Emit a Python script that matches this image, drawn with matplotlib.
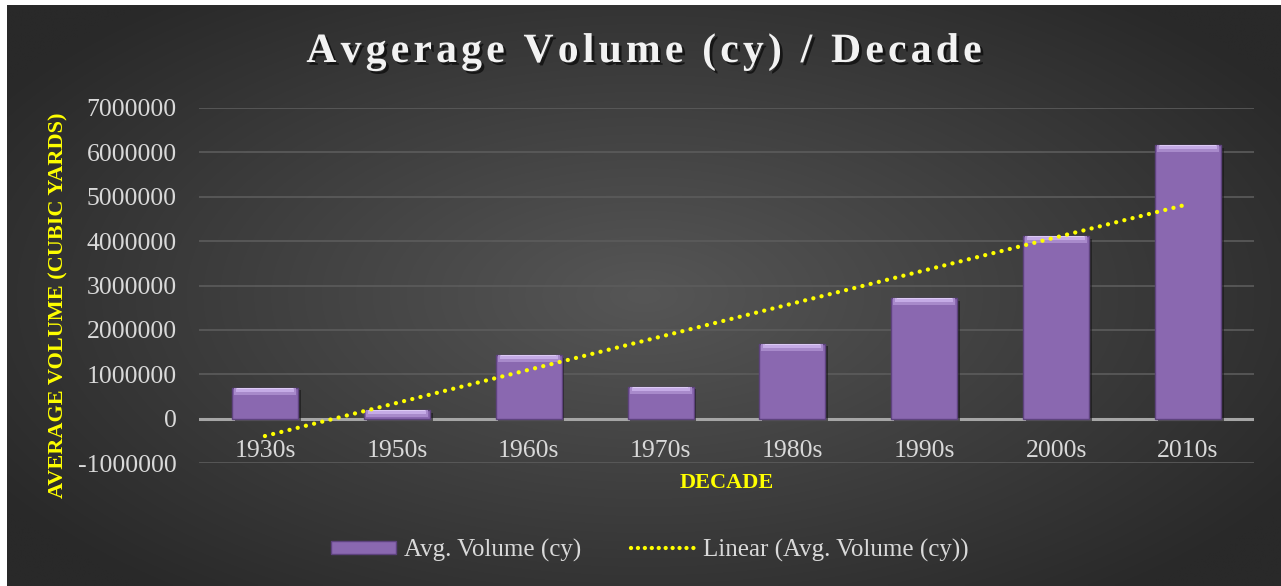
import numpy as np
import matplotlib
matplotlib.use("Agg")
import matplotlib.pyplot as plt
import matplotlib.patheffects as pe
from matplotlib.lines import Line2D
from matplotlib.patches import Patch
from matplotlib.textpath import TextPath
from matplotlib.font_manager import FontProperties

categories = ["1930s", "1950s", "1960s", "1970s", "1980s", "1990s", "2000s", "2010s"]
avg_volume = [700000, 200000, 1440000, 720000, 1690000, 2720000, 4120000, 6170000]
y_ticks = [-1000000, 0, 1000000, 2000000, 3000000, 4000000, 5000000, 6000000, 7000000]

title = "Avgerage Volume (cy) / Decade"
y_label = "AVERAGE VOLUME (CUBIC YARDS)"
x_label = "DECADE"
legend_bar = "Avg. Volume (cy)"
legend_trend = "Linear (Avg. Volume (cy))"

W, H = 1281, 586
fig = plt.figure(figsize=(W / 100, H / 100), dpi=100)
fig.patch.set_facecolor("white")
serif = ["Liberation Serif", "DejaVu Serif"]

# background radial gradient
bg = fig.add_axes([7 / W, 0, 1 - 7 / W, 1 - 5 / H])
bg.set_axis_off()
gx, gy = np.meshgrid(np.linspace(-1, 1, 400), np.linspace(-1, 1, 200))
r = np.sqrt((gx / 1.0) ** 2 + (gy / 1.1) ** 2)
r = np.clip(r, 0, 1.2) / 1.2
center = np.array([0x56, 0x56, 0x56]) / 255
edge = np.array([0x29, 0x29, 0x29]) / 255
img = center[None, None, :] * (1 - r[..., None]) + edge[None, None, :] * r[..., None]
bg.imshow(img, aspect="auto", extent=[0, 1, 0, 1], interpolation="bilinear")
bg.set_xlim(0, 1)
bg.set_ylim(0, 1)

ax = fig.add_axes([199 / W, 1 - 463 / H, (1254 - 199) / W, (463 - 108) / H])
ax.set_facecolor("none")
x = np.arange(len(categories))
vals = np.array(avg_volume, dtype=float)

ax.set_xlim(-0.5, len(categories) - 0.5)
ax.set_ylim(-1000000, 7000000)
ax.set_yticks(y_ticks)
ax.yaxis.grid(True, color="#5c5c5c", linewidth=1.2)
ax.set_axisbelow(True)
for s in ax.spines.values():
    s.set_visible(False)
ax.axhline(0, color="#a6a6a6", linewidth=2.2, zorder=2)

ax.bar(x, vals, width=0.5, color="#8a68b0", edgecolor="#5e437e",
       linewidth=1.0, zorder=3,
       path_effects=[pe.SimplePatchShadow(offset=(2, -2), shadow_rgbFace="#151515", alpha=0.6), pe.Normal()])
# bevel highlight at top of each bar
bevel = np.minimum(170000, vals)
ax.bar(x, bevel, bottom=vals - bevel, width=0.47, color="#a88acb", linewidth=0, zorder=4)
ax.bar(x, bevel * 0.55, bottom=vals - bevel * 0.55, width=0.44, color="#c5abe6", linewidth=0, zorder=5)
ax.bar(x, bevel * 0.2, bottom=vals - bevel * 0.2, width=0.42, color="#dccaf4", linewidth=0, zorder=5)

# linear trend line
xn = x + 1
coef = np.polyfit(xn, vals, 1)
trend = np.polyval(coef, xn)
dot_style = (0, (0.01, 1.95))
ax.plot(x, trend, color="#ffff00", linewidth=3.1, linestyle=dot_style,
        dash_capstyle="round", zorder=6)

fs = 18.5
ax.tick_params(axis="both", length=0, colors="#d9d9d9", labelsize=fs)
ax.tick_params(axis="y", pad=16)
ax.set_xticks(x)
ax.set_xticklabels(categories)
ax.set_yticklabels([str(v) for v in y_ticks])
for lbl in ax.get_yticklabels():
    lbl.set_fontfamily(serif)
for lbl in ax.get_xticklabels():
    lbl.set_visible(False)
for xi, c in zip(x, categories):
    ax.annotate(c, xy=(xi, 0), xytext=(0, -23), textcoords="offset points",
                ha="center", va="center", fontsize=fs, color="#d9d9d9", family=serif)

# letter-spaced title
fp = FontProperties(family=serif, weight="bold", size=30)
widths = []
for ch in title:
    if ch == " ":
        widths.append(TextPath((0, 0), "a a", prop=fp).get_extents().width - TextPath((0, 0), "aa", prop=fp).get_extents().width)
    else:
        widths.append(TextPath((0, 0), "x" + ch + "x", prop=fp).get_extents().width - TextPath((0, 0), "xx", prop=fp).get_extents().width)
widths = np.array(widths) * 100 / 72
spacing = 4.2
total = widths.sum() + spacing * (len(title) - 1)
xpos = 644 - total / 2
for ch, w in zip(title, widths):
    if ch != " ":
        fig.text(xpos / W, 1 - 52 / H, ch, ha="left", va="center", fontsize=30,
                 fontweight="bold", color="#f2f2f2", family=serif,
                 path_effects=[pe.withSimplePatchShadow(offset=(2, -2), shadow_rgbFace="black", alpha=0.6)])
    xpos += w + spacing

fig.text(58 / W, 1 - 305 / H, y_label, ha="center", va="center", rotation=90,
         fontsize=16, fontweight="bold", color="#ffff00", family=serif)
fig.text(727 / W, 1 - 483 / H, x_label, ha="center", va="center",
         fontsize=16, fontweight="bold", color="#ffff00", family=serif)

handles = [Patch(facecolor="#8a68b0", edgecolor="#5e437e"),
           Line2D([0], [0], color="#ffff00", linewidth=3.1, linestyle=(0, (0.01, 1.6)), dash_capstyle="round")]
leg = fig.legend(handles, [legend_bar, legend_trend], loc="center", bbox_to_anchor=(650 / W, 1 - 550 / H),
                 ncol=2, frameon=False, handlelength=2.6, handleheight=0.45,
                 columnspacing=2.0, handletextpad=0.3, prop={"family": serif, "size": 18})
for t in leg.get_texts():
    t.set_color("#d9d9d9")

fig.savefig("out.png", dpi=100, facecolor=fig.get_facecolor())
